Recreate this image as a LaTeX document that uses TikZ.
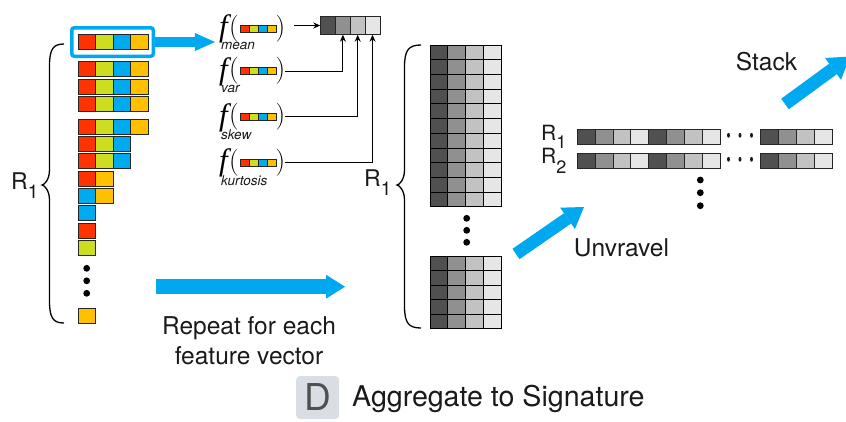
\documentclass[tikz,border=0pt]{standalone}
\usepackage{fontspec}
\setsansfont{TeX Gyre Heros}
\newfontfamily\funcfont{Liberation Serif}
\usetikzlibrary{arrows.meta}

% feature colours
\definecolor{cred}{HTML}{FF3300}
\definecolor{cgreen}{HTML}{CCDD22}
\definecolor{cblue}{HTML}{00AAEE}
\definecolor{cyellow}{HTML}{FFC000}
% flow arrows
\definecolor{flow}{HTML}{00A8F0}
% grey levels of the aggregated statistics
\definecolor{gA}{HTML}{505050}
\definecolor{gB}{HTML}{909090}
\definecolor{gC}{HTML}{C2C2C2}
\definecolor{gD}{HTML}{E6E6E6}
% section tag
\definecolor{tagbg}{HTML}{D9DDE4}
\definecolor{tagfg}{HTML}{505050}
\definecolor{ink}{HTML}{1A1A1A}

\newcommand\fsz[1]{\fontsize{#1}{#1}\selectfont}

% tall curly brace opening to the right:
% #1 end x, #2 spine x, #3 tip x, #4 top y, #5 tip y, #6 bottom y
\newcommand\curlybrace[6]{%
  \draw[bracepen] (#1,#4) .. controls ({#2+0.25*(#1-#2)},#4) and (#2,#4+5) .. (#2,#4+22)
    -- (#2,#5-15) .. controls (#2,#5-5) and ({#3+2},#5) .. (#3,#5)
    .. controls ({#3+2},#5) and (#2,#5+5) .. (#2,#5+15)
    -- (#2,#6-22) .. controls (#2,#6-5) and ({#2+0.25*(#1-#2)},#6) .. (#1,#6);}

\begin{document}
\begin{tikzpicture}[x=1pt,y=-1pt,
  cell/.style={draw=black!85, line width=0.8pt, inner sep=0pt, minimum width=17.5pt, minimum height=15pt},
  mini/.style={draw=black!85, line width=0.6pt, inner sep=0pt, minimum width=9pt, minimum height=7pt},
  outcell/.style={draw=black!85, line width=0.8pt, inner sep=0pt, minimum width=14.8pt, minimum height=17.6pt},
  gridcell/.style={draw=black, line width=0.8pt, inner sep=0pt, minimum width=17.75pt, minimum height=#1},
  sigcell/.style={draw=black!85, line width=0.8pt, inner sep=0pt, minimum width=17.85pt, minimum height=15pt},
  flowarrow/.style n args={3}{draw=flow, line width=#1, -{Triangle[length=#3, width=#2, line width=0pt]}},
  feed/.style={draw=black, line width=0.9pt, -{Stealth[length=7pt, width=6pt]}},
  bracepen/.style={draw=black, line width=1.3pt},
  dotmark/.style={circle, fill=black, inner sep=0pt, minimum size=6.8pt},
  lbl/.style={text=ink, inner sep=0pt, font=\sffamily\fontsize{24.5}{30}\selectfont},
  rlbl/.style={text=ink, inner sep=0pt, anchor=base west, font=\sffamily},
  fsym/.style={inner sep=0pt, font=\funcfont\fsz{31}\itshape},
  paren/.style={inner sep=0pt, font=\fsz{27}},
  fsub/.style={inner sep=0pt, anchor=west, text=ink, font=\sffamily\itshape\fsz{13.5}},
]
\useasboundingbox (0,0) rectangle (846,421);

% ---- feature vectors of one region ----
\foreach \r/\y/\cols in {
    1/42/{cred,cgreen,cblue,cyellow},
    2/69.2/{cred,cgreen,cblue,cyellow},
    3/86.6/{cred,cgreen,cblue,cyellow},
    4/104/{cred,cgreen,cblue,cyellow},
    5/127/{cred,cgreen,cblue,cyellow},
    6/143.4/{cred,cgreen,cblue},
    7/160.7/{cred,cgreen,cblue},
    8/178.5/{cred,cyellow},
    9/195.7/{cblue,cyellow},
    10/213.2/{cblue},
    11/230.7/{cred},
    12/248/{cgreen},
    13/315.8/{cyellow}}
  {\foreach \c [count=\i] in \cols
     {\node[cell, fill=\c] (v\r-\i) at ({69.25+17.5*\i},\y) {};}}

\node[dotmark] (ld1) at (86.7,268.3) {};
\node[dotmark] (ld2) at (86.7,280.8) {};
\node[dotmark] (ld3) at (86.7,293.3) {};

% highlighted vector
\node[draw=flow, line width=3.5pt, rounded corners=2.5pt, minimum width=81.5pt,
      minimum height=28.5pt, inner sep=0pt] (hl) at (112.5,42) {};

% brace and label of the region
\curlybrace{64}{49.5}{42}{44}{185}{323}
\node[rlbl, font=\sffamily\fsz{23}] (rleft) at (11,189) {R\raisebox{-9pt}{\fsz{19}1}};

% ---- statistics applied to the vector ----
\foreach \k/\y/\sub in {1/28.3/mean, 2/71/var, 3/116.6/skew, 4/162.3/kurtosis}{
  \node[fsym] (f\k) at (223.5,\y+1) {f};
  \node[paren] (lp\k) at (234,\y) {(};
  \node[paren] (rp\k) at (280.5,\y) {)};
  \foreach \c [count=\i] in {cred,cgreen,cblue,cyellow}
    {\node[mini, fill=\c] (m\k-\i) at ({235.5+9*\i},\y) {};}
  \node[fsub] (s\k) at (221,\y+18) {\sub};
}

% aggregated statistics vector
\foreach \c [count=\i] in {gA,gB,gC,gD}
  {\node[outcell, fill=\c] (o\i) at ({313.3+14.8*\i},25.5) {};}

\draw[feed, shorten <=9pt] (rp1.east |- o1.west) -- (o1.west);
\draw[feed] (rp2.east) -| (o2.south);
\draw[feed] (rp3.east) -| (o3.south);
\draw[feed] (rp4.east) -| (o4.south);

\draw[flowarrow={10pt}{18pt}{20pt}, shorten >=4pt] (hl.east) -- (hl.east -| f1.west);

% ---- repeat for every vector ----
\coordinate (repS) at (156,286.7);
\coordinate (repE) at (345,286.7);
\draw[flowarrow={15pt}{24pt}{19pt}] (repS) -- (repE);
\node[lbl, align=center] (rep) at (249,341) {Repeat for each\\feature vector};

% ---- stacked statistics of the region ----
\foreach \r in {1,...,11}
  \foreach \c/\col in {1/gA,2/gB,3/gC,4/gD}
    {\node[gridcell=14.7pt, fill=\col] (g\r-\c) at ({421.1+17.75*\c},{37.65+14.7*\r}) {};}
\foreach \r in {1,...,5}
  \foreach \c/\col in {1/gA,2/gB,3/gC,4/gD}
    {\node[gridcell=14.5pt, fill=\col] (h\r-\c) at ({421.1+17.75*\c},{248.75+14.5*\r}) {};}

\node[dotmark] (md1) at (466.7,218.3) {};
\node[dotmark] (md2) at (466.7,230.3) {};
\node[dotmark] (md3) at (466.7,242.3) {};

\curlybrace{421}{404.5}{397}{45}{185}{328}
\node[rlbl, font=\sffamily\fsz{23}] (rmid) at (364,186.7) {R\raisebox{-8.5pt}{\fsz{19}1}};

% ---- unravel into signature rows ----
\coordinate (unS) at (516,254);
\coordinate (unE) at (584,207);
\draw[flowarrow={12.5pt}{26pt}{20pt}] (unS) -- (unE);
\node[lbl] (unr) at (621.5,248) {Unvravel};

\foreach \row/\y in {1/136.8, 2/160.8}{
  \foreach \c [count=\i] in {gA,gB,gC,gD,gA,gB,gC,gD}
    {\node[sigcell, fill=\c] (s\row-\i) at ({568.35+17.85*\i},\y) {};}
  \foreach \c [count=\i] in {gA,gB,gC,gD}
    {\node[sigcell, minimum width=18pt, fill=\c] (t\row-\i) at ({751.7+18*\i},\y) {};}
  \foreach \x in {728.5,740,751.5}
    {\fill[ink] (\x,\y-1.5) ellipse (1.5pt and 2.4pt);}
}
\node[rlbl, font=\sffamily\fsz{21}] (rs1) at (541,140) {R\raisebox{-8.3pt}{\fsz{18}1}};
\node[rlbl, font=\sffamily\fsz{21}] (rs2) at (541,163.3) {R\raisebox{-10pt}{\fsz{18}2}};

\node[dotmark] (sd1) at (700.3,180) {};
\node[dotmark] (sd2) at (700.3,192.7) {};
\node[dotmark] (sd3) at (700.3,205.7) {};

% ---- stack the signatures ----
\coordinate (stS) at (785,104);
\coordinate (stE) at (850,56.5);
\draw[flowarrow={13pt}{27pt}{21pt}] (stS) -- (stE);
\node[lbl] (stack) at (766.5,62) {Stack};

% ---- section title ----
\node[fill=tagbg, rounded corners=4pt, minimum width=43pt, minimum height=43pt,
      inner sep=0pt, text=tagfg, font=\sffamily\fsz{37}] (tag) at (317.7,397.5) {D};
\node[anchor=base west, inner sep=0pt, text=ink, font=\sffamily\fsz{28.6}] (title) at (352,406.7)
  {Aggregate to Signature};
\end{tikzpicture}
\end{document}
